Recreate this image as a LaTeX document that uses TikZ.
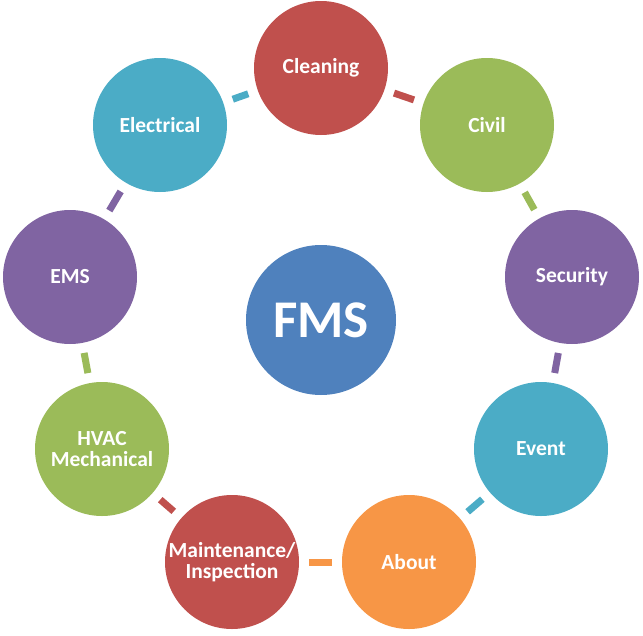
\documentclass[tikz,border=0pt]{standalone}
\usepackage{fontspec}
\setmainfont{Carlito}
\definecolor{cred}{HTML}{C0504D}
\definecolor{cgreen}{HTML}{9BBB59}
\definecolor{cpurple}{HTML}{8064A2}
\definecolor{cblue}{HTML}{4BACC6}
\definecolor{corange}{HTML}{F79646}
\definecolor{cfms}{HTML}{4F81BD}
\begin{document}
\begin{tikzpicture}[x=1pt,y=-1pt,
  item/.style={circle,minimum size=134pt,inner sep=0pt,text=white,font=\bfseries\fontsize{21.5}{21}\selectfont,align=center},
  bar/.style={line width=7pt,shorten <=10pt,shorten >=10pt}]
\useasboundingbox (0,0) rectangle (643,635);
\node[item,fill=cfms,minimum size=150pt,font=\bfseries\fontsize{53}{55}\selectfont] (fms) at (321,320) {FMS};
\node[item,fill=cred] (clean) at (321,68) {Cleaning};
\node[item,fill=cgreen] (civil) at (487,125) {Civil};
\node[item,fill=cpurple] (sec) at (572,277) {Security};
\node[item,fill=cblue] (event) at (541,449) {Event};
\node[item,fill=corange] (about) at (409,562) {About};
\node[item,fill=cred] (maint) at (232,562) {Maintenance/\\Inspection};
\node[item,fill=cgreen] (hvac) at (102,449) {HVAC\\Mechanical};
\node[item,fill=cpurple] (ems) at (70,277) {EMS};
\node[item,fill=cblue] (elec) at (160,125) {Electrical};
\draw[bar,cblue] (elec) -- (clean);
\draw[bar,cred] (clean) -- (civil);
\draw[bar,cgreen] (civil) -- (sec);
\draw[bar,cpurple] (sec) -- (event);
\draw[bar,cblue] (event) -- (about);
\draw[bar,corange] (about) -- (maint);
\draw[bar,cred] (maint) -- (hvac);
\draw[bar,cgreen] (hvac) -- (ems);
\draw[bar,cpurple] (ems) -- (elec);
\end{tikzpicture}
\end{document}
